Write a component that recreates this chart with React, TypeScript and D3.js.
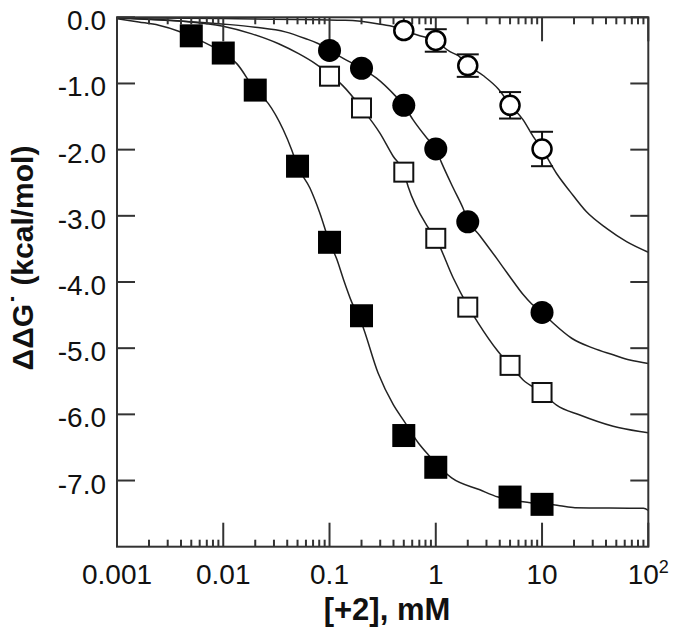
import React from "react";
import * as d3 from "d3";

// Data points
const concFS = [0.005, 0.01, 0.02, 0.05, 0.1, 0.2, 0.5, 1, 5, 10];
const ddgFS = [-0.28, -0.54, -1.1, -2.25, -3.4, -4.51, -6.32, -6.8, -7.25, -7.36];
const concOS = [0.1, 0.2, 0.5, 1, 2, 5, 10];
const ddgOS = [-0.89, -1.37, -2.34, -3.34, -4.38, -5.26, -5.67];
const concFC = [0.1, 0.2, 0.5, 1, 2, 10];
const ddgFC = [-0.5, -0.77, -1.33, -1.99, -3.09, -4.46];
const concOC = [0.5, 1, 2, 5, 10];
const ddgOC = [-0.2, -0.35, -0.73, -1.33, -1.99];
const errOC = [0, 0.17, 0.17, 0.2, 0.26];

// Fitted curves
const fitFS: [number, number][] = [
  [0.001, -0.02], [0.0016, -0.07], [0.00247, -0.12], [0.0038, -0.21], [0.005, -0.29],
  [0.01, -0.54], [0.0134, -0.7], [0.02, -1.1], [0.0265, -1.3], [0.0367, -1.7],
  [0.044, -2.0], [0.05, -2.25], [0.0654, -2.58], [0.0812, -2.96], [0.1, -3.4],
  [0.1167, -3.65], [0.1346, -3.95], [0.1614, -4.3], [0.2, -4.62], [0.287, -5.38],
  [0.397, -5.85], [0.512, -6.12], [0.683, -6.43], [0.849, -6.61], [1.41, -6.96],
  [2.6, -7.14], [3.86, -7.25], [6.64, -7.32], [14.7, -7.38], [20.4, -7.41],
  [90, -7.42], [100, -7.45],
];
const fitOS: [number, number][] = [
  [0.001, -0.01], [0.0042, -0.06], [0.0097, -0.13], [0.0186, -0.25], [0.0332, -0.4],
  [0.0512, -0.55], [0.0734, -0.7], [0.1, -0.86], [0.1346, -1.04], [0.2, -1.37],
  [0.298, -1.75], [0.397, -2.1], [0.5, -2.34], [0.55, -2.56], [0.819, -3.14],
  [1.0, -3.34], [1.46, -3.94], [2.0, -4.36], [2.51, -4.62], [3.86, -5.05],
  [5.0, -5.26], [6.64, -5.48], [10, -5.67], [13.7, -5.86], [22.7, -6.01],
  [46.7, -6.18], [83.2, -6.26], [100, -6.28],
];
const fitFC: [number, number][] = [
  [0.001, -0.01], [0.0097, -0.1], [0.02, -0.15], [0.0383, -0.22], [0.059, -0.32],
  [0.0789, -0.4], [0.1, -0.5], [0.1346, -0.62], [0.2, -0.77], [0.277, -0.92],
  [0.412, -1.18], [0.5, -1.33], [0.612, -1.55], [0.819, -1.82], [1.0, -1.99],
  [1.135, -2.2], [1.46, -2.58], [1.81, -2.89], [2.0, -3.06], [2.6, -3.3],
  [3.73, -3.64], [4.98, -3.92], [6.64, -4.19], [7.96, -4.33], [10, -4.46],
  [12.7, -4.62], [19.0, -4.85], [30.3, -5.0], [46.7, -5.1], [67, -5.18], [100, -5.23],
];
const fitOC: [number, number][] = [
  [0.001, -0.005], [0.01, -0.02], [0.1405, -0.045], [0.29, -0.1], [0.415, -0.15],
  [0.5, -0.2], [0.683, -0.27], [1.0, -0.36], [1.36, -0.52], [1.63, -0.58],
  [2.0, -0.72], [2.79, -0.88], [3.86, -1.08], [5.0, -1.32], [6.64, -1.55],
  [8.24, -1.8], [10, -1.99], [13.7, -2.36], [18.3, -2.63], [26.2, -2.94],
  [40.5, -3.19], [62.4, -3.39], [100, -3.55],
];

const xTickValues = [0.001, 0.01, 0.1, 1, 10, 100];
const xTickLabels = ["0.001", "0.01", "0.1", "1", "10", "10"];
const yTickValues = [0, -1, -2, -3, -4, -5, -6, -7];
const yTickLabels = ["0.0", "-1.0", "-2.0", "-3.0", "-4.0", "-5.0", "-6.0", "-7.0"];

const W = 675;
const H = 641;
const L = 117;
const R = 648.3;
const T = 17.3;
const B = 546.7;

export default function App() {
  const x = d3.scaleLog().domain([0.001, 100]).range([L, R]);
  const y = d3.scaleLinear().domain([-8, 0]).range([B, T]);
  const line = d3
    .line<[number, number]>()
    .x((d) => x(d[0]))
    .y((d) => y(d[1]))
    .curve(d3.curveMonotoneX);

  const minor: number[] = [];
  for (let e = -3; e < 2; e++) {
    for (let m = 2; m <= 9; m++) minor.push(m * Math.pow(10, e));
  }
  const axisColor = "#333";
  const font = "'Liberation Sans', Arial, Helvetica, sans-serif";

  return (
    <svg
      width={W}
      height={H}
      style={{ position: "absolute", left: 0, top: 0, background: "#fff" }}
      fontFamily={font}
    >
      <rect x={0} y={0} width={W} height={H} fill="#fff" />
      {/* curves */}
      <g fill="none" stroke="#222" strokeWidth={1.5}>
        <path d={line(fitFS) || ""} />
        <path d={line(fitOS) || ""} />
        <path d={line(fitFC) || ""} />
        <path d={line(fitOC) || ""} />
      </g>

      {/* frame */}
      <rect x={L} y={T} width={R - L} height={B - T} fill="none" stroke={axisColor} strokeWidth={2} />

      {/* x ticks top & bottom */}
      <g stroke={axisColor} strokeWidth={2}>
        {xTickValues.map((v, i) => (
          <g key={"xt" + i}>
            <line x1={x(v)} x2={x(v)} y1={B} y2={B - 24} />
            <line x1={x(v)} x2={x(v)} y1={T} y2={T + 24} />
          </g>
        ))}
        {minor.map((v, i) => (
          <g key={"xm" + i}>
            <line x1={x(v)} x2={x(v)} y1={B} y2={B - 7} />
            <line x1={x(v)} x2={x(v)} y1={T} y2={T + 7} />
          </g>
        ))}
        {yTickValues.map((v, i) => (
          <g key={"yt" + i}>
            <line x1={L} x2={L + 18} y1={y(v)} y2={y(v)} />
            <line x1={R} x2={R - 18} y1={y(v)} y2={y(v)} />
          </g>
        ))}
      </g>

      {/* tick labels */}
      <g fontSize={28} fill="#111">
        {xTickValues.map((v, i) => (
          <text key={"xl" + i} x={x(v)} y={584} textAnchor="middle">
            {xTickLabels[i]}
            {v === 100 ? (
              <tspan fontSize={18} dy={-11}>
                2
              </tspan>
            ) : null}
          </text>
        ))}
        {yTickValues.map((v, i) => (
          <text key={"yl" + i} x={106} y={y(v) + 13} textAnchor="end">
            {yTickLabels[i]}
          </text>
        ))}
      </g>

      {/* axis titles */}
      <text x={387} y={620} textAnchor="middle" fontSize={31} fontWeight="bold" fill="#111">
        [+2], mM
      </text>
      <text
        transform="translate(33,258) rotate(-90)"
        textAnchor="middle"
        fontSize={30}
        fontWeight="bold"
        fill="#111"
      >
        ΔΔG˙ (kcal/mol)
      </text>

      {/* error bars for open circles */}
      <g stroke="#111" strokeWidth={2}>
        {concOC.map((c, i) =>
          errOC[i] > 0 ? (
            <g key={"eb" + i}>
              <line x1={x(c)} x2={x(c)} y1={y(ddgOC[i] + errOC[i])} y2={y(ddgOC[i] - errOC[i])} />
              <line x1={x(c) - 11} x2={x(c) + 11} y1={y(ddgOC[i] + errOC[i])} y2={y(ddgOC[i] + errOC[i])} />
              <line x1={x(c) - 11} x2={x(c) + 11} y1={y(ddgOC[i] - errOC[i])} y2={y(ddgOC[i] - errOC[i])} />
            </g>
          ) : null
        )}
      </g>

      {/* markers */}
      {concFS.map((c, i) => (
        <rect key={"fs" + i} x={x(c) - 11.5} y={y(ddgFS[i]) - 11.5} width={23} height={23} fill="#000" />
      ))}
      {concOS.map((c, i) => (
        <rect
          key={"os" + i}
          x={x(c) - 9.5}
          y={y(ddgOS[i]) - 9.5}
          width={19}
          height={19}
          fill="#fff"
          stroke="#111"
          strokeWidth={2}
        />
      ))}
      {concFC.map((c, i) => (
        <circle key={"fc" + i} cx={x(c)} cy={y(ddgFC[i])} r={11.5} fill="#000" />
      ))}
      {concOC.map((c, i) => (
        <circle key={"oc" + i} cx={x(c)} cy={y(ddgOC[i])} r={9.5} fill="#fff" stroke="#000" strokeWidth={2.5} />
      ))}
    </svg>
  );
}
